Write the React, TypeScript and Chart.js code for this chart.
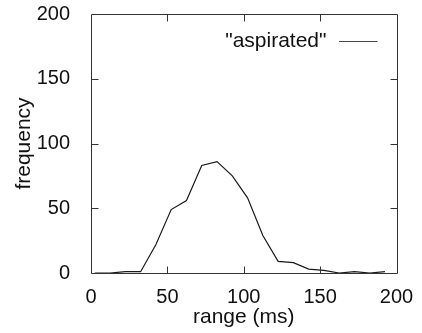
import React, { useEffect, useRef } from "react";
import { Chart, registerables } from "chart.js";

Chart.register(...registerables);

const binCenters = [2.5, 12.5, 22.5, 32.5, 42.5, 52.5, 62.5, 72.5, 82.5, 92.5, 102.5, 112.5, 122.5, 132.5, 142.5, 152.5, 162.5, 172.5, 182.5, 192.5];
const frequencies = [0, 0, 1, 1, 22, 49, 56, 83, 86, 75, 58, 29, 9, 8, 3, 2, 0, 1, 0, 1];
const xTicks = [0, 50, 100, 150, 200];
const yTicks = [0, 50, 100, 150, 200];
const seriesLabel = '"aspirated"';
const xTitle = "range (ms)";
const yTitle = "frequency";

const FONT = '"Liberation Sans", Arial, Helvetica, sans-serif';

const framePlugin = {
  id: "frame",
  afterDraw(chart: any) {
    const { ctx, chartArea } = chart;
    const { left, right, top, bottom } = chartArea;
    const xs = chart.scales.x;
    const ys = chart.scales.y;
    ctx.save();
    ctx.strokeStyle = "#333";
    ctx.lineWidth = 1;
    ctx.beginPath();
    const L = Math.round(left) + 0.5, R = Math.round(right) + 0.5, T = Math.round(top) + 0.5, B = Math.round(bottom) + 0.5;
    ctx.moveTo(L, T); ctx.lineTo(R, T); ctx.lineTo(R, B); ctx.lineTo(L, B); ctx.closePath();
    const tl = 7;
    xTicks.slice(1, -1).forEach((v) => {
      const px = Math.round(xs.getPixelForValue(v)) + 0.5;
      ctx.moveTo(px, B); ctx.lineTo(px, B - tl);
      ctx.moveTo(px, T); ctx.lineTo(px, T + tl);
    });
    yTicks.slice(1, -1).forEach((v) => {
      const py = Math.round(ys.getPixelForValue(v)) + 0.5;
      ctx.moveTo(L, py); ctx.lineTo(L + tl, py);
      ctx.moveTo(R, py); ctx.lineTo(R - tl, py);
    });
    ctx.stroke();
    // legend
    const ly = top + 27;
    ctx.fillStyle = "#111";
    ctx.font = `21px ${FONT}`;
    ctx.textAlign = "right";
    ctx.textBaseline = "middle";
    ctx.fillText(seriesLabel, right - 70, ly);
    ctx.beginPath();
    ctx.strokeStyle = "#444";
    ctx.moveTo(right - 57.5, Math.round(ly) + 0.5);
    ctx.lineTo(right - 19, Math.round(ly) + 0.5);
    ctx.stroke();
    ctx.restore();
  },
};

export default function App() {
  const ref = useRef<HTMLCanvasElement>(null);
  useEffect(() => {
    document.body.style.margin = "0";
    const chart = new Chart(ref.current as HTMLCanvasElement, {
      type: "line",
      data: {
        datasets: [
          {
            label: seriesLabel,
            data: binCenters.map((x, i) => ({ x, y: frequencies[i] })),
            borderColor: "#1a1a1a",
            borderWidth: 1.2,
            pointRadius: 0,
            tension: 0,
            fill: false,
          },
        ],
      },
      options: {
        responsive: false,
        animation: false,
        layout: { padding: { left: 0, right: 25.5, top: 14, bottom: 0 } },
        plugins: { legend: { display: false }, tooltip: { enabled: false } },
        scales: {
          x: {
            type: "linear",
            min: 0,
            max: 200,
            afterBuildTicks: (s: any) => { s.ticks = xTicks.map((v) => ({ value: v })); },
            afterFit: (s: any) => { s.height = 60; s.paddingLeft = 0; s.paddingRight = 0; },
            grid: { display: false },
            border: { display: false },
            ticks: { color: "#111", font: { family: FONT, size: 20 }, padding: 4, maxRotation: 0 },
            title: { display: true, text: xTitle, color: "#111", font: { family: FONT, size: 21 }, padding: { top: 0, bottom: 3 } },
          },
          y: {
            type: "linear",
            min: 0,
            max: 200,
            afterBuildTicks: (s: any) => { s.ticks = yTicks.map((v) => ({ value: v })); },
            afterFit: (s: any) => { s.width = 91; s.paddingTop = 0; s.paddingBottom = 0; },
            grid: { display: false },
            border: { display: false },
            ticks: { color: "#111", font: { family: FONT, size: 20 }, padding: 13 },
            title: { display: true, text: yTitle, color: "#111", font: { family: FONT, size: 21 }, padding: { top: 12, bottom: 0 } },
          },
        },
      },
      plugins: [framePlugin],
    });
    return () => chart.destroy();
  }, []);
  return <canvas ref={ref} width={422} height={333} style={{ display: "block" }} />;
}
